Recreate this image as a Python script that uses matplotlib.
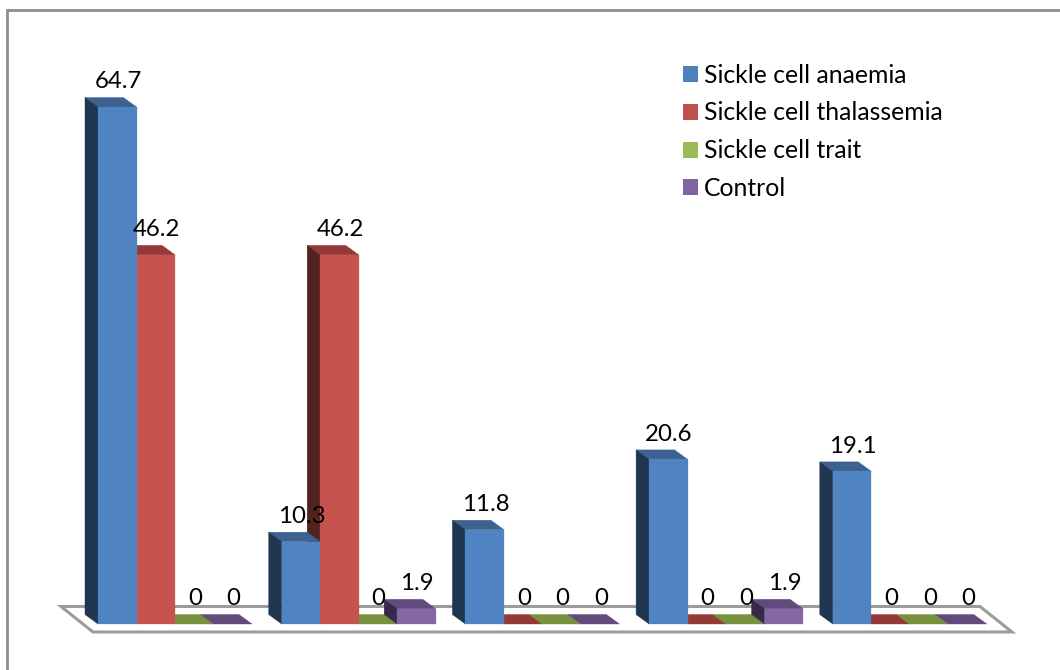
import matplotlib
matplotlib.use("Agg")
import matplotlib.pyplot as plt
from matplotlib.lines import Line2D
from matplotlib.patches import Patch, Polygon

plt.rcParams["font.family"] = ["Lato", "DejaVu Sans"]

# Percentages per group, one list per series
series_names = ["Sickle cell anaemia", "Sickle cell thalassemia", "Sickle cell trait", "Control"]
anaemia = [64.7, 10.3, 11.8, 20.6, 19.1]
thalassemia = [46.2, 46.2, 0, 0, 0]
trait = [0, 0, 0, 0, 0]
control = [0, 1.9, 0, 1.9, 0]
series_values = [anaemia, thalassemia, trait, control]

# Face, side and top shades for the extruded bars
face_colors = ["#5083C1", "#C5544F", "#7F9A45", "#8667A6"]
side_colors = ["#1F3550", "#522220", "#4A5A28", "#352A48"]
top_colors = ["#3D6290", "#953938", "#77913F", "#624B7C"]
legend_colors = ["#4F81BD", "#C0504D", "#9BBB59", "#8064A2"]

W, H = 1060, 670
GROUP_PX = 183.7       # horizontal pixels per group
UNIT_PX = 7.99         # vertical pixels per percentage point
X0_PX, Y0_PX = 98, 624 # pixel position of the first bar's front foot
BAR = 38.5 / GROUP_PX
DX = -13 / GROUP_PX    # receding depth of the bars
DY = 9.5 / UNIT_PX

fig = plt.figure(figsize=(W / 100, H / 100), dpi=100, facecolor="white")
ax = fig.add_axes([0, 0, 1, 1])
ax.set_xlim(-X0_PX / GROUP_PX, (W - X0_PX) / GROUP_PX)
ax.set_ylim(-(H - Y0_PX) / UNIT_PX, Y0_PX / UNIT_PX)
ax.axis("off")


def px(x, y):
    """Convert figure pixels (origin top-left) to data coordinates."""
    return (x - X0_PX) / GROUP_PX, (Y0_PX - y) / UNIT_PX


# Chart frame: top and left edges only
ax.add_line(Line2D(*zip(px(7, 671), px(7, 10), px(1061, 10)), color="#8E8E8E", lw=2.0,
                   solid_joinstyle="miter", zorder=1))

# Floor slab
ax.add_patch(Polygon([px(61, 606.5), px(980, 606.5), px(1012, 632), px(93, 632)], closed=True,
                     facecolor="white", edgecolor="#9C9C9C", lw=2.2, zorder=2))


def draw_bar(x, v, s, z):
    y = v
    ax.add_patch(Polygon([(x, y), (x + DX, y + DY), (x + BAR + DX, y + DY), (x + BAR, y)],
                         closed=True, fc=top_colors[s], ec=top_colors[s], lw=0.3, zorder=z))
    if v > 0:
        ax.add_patch(Polygon([(x, 0), (x + DX, DY), (x + DX, y + DY), (x, y)],
                             closed=True, fc=side_colors[s], ec=side_colors[s], lw=0.3, zorder=z))
        ax.bar(x, v, width=BAR, align="edge", color=face_colors[s], edgecolor=face_colors[s],
               linewidth=0.2, zorder=z + 0.1)


n_series = len(series_values)

# Flat zero-height bars lie on the floor, so they go underneath the raised ones
for s in range(n_series):
    for g, v in enumerate(series_values[s]):
        if v == 0:
            draw_bar(g + s * BAR, v, s, 3 + s * 0.01)

# Raised bars overlap towards the viewer: later series first within each group
for g in range(len(anaemia)):
    for s in reversed(range(n_series)):
        v = series_values[s][g]
        if v > 0:
            draw_bar(g + s * BAR, v, s, 4 + g + (n_series - s) * 0.2)

# Value labels centred over each front face
for s in range(n_series):
    for g, v in enumerate(series_values[s]):
        ax.annotate(f"{v:g}", xy=(g + (s + 0.5) * BAR, v), xytext=(0.5, 25.3 * 0.72),
                    textcoords="offset points", ha="center", va="center",
                    fontsize=17.3, color="black", zorder=20)

# Legend in the upper right
handles = [Patch(facecolor=c, edgecolor="none") for c in legend_colors]
ax.legend(handles, series_names, loc="upper left", bbox_to_anchor=(675 / W, 1 - 55.5 / H),
          bbox_transform=fig.transFigure, frameon=False, fontsize=17.8,
          handlelength=0.62, handleheight=0.62, handletextpad=0.22,
          labelspacing=0.6, borderpad=0.33, borderaxespad=0)

fig.savefig("out.png", dpi=100, facecolor="white")
